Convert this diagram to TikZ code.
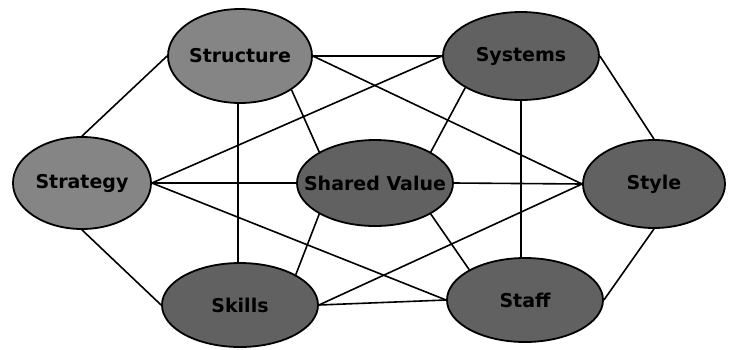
\documentclass[tikz,border=0pt]{standalone}
\usepackage{fontspec}
\setmainfont{DejaVu Sans}
\usetikzlibrary{shapes.geometric,backgrounds}
\begin{document}
\begin{tikzpicture}[x=1pt,y=-1pt,
  sbox/.style={ellipse,draw=black,line width=1.8pt,inner xsep=-20pt,inner ysep=0pt,
    font=\fontsize{19}{19}\selectfont\bfseries,text=black},
  light/.style={sbox,fill=black!48},
  dark/.style={sbox,fill=black!62},
  link/.style={draw=black,line width=1.6pt}]
\useasboundingbox (0,0) rectangle (729,349);
\node[light,minimum width=138pt,minimum height=92pt] (strategy) at (82,183) {Strategy};
\node[light,minimum width=144pt,minimum height=94pt] (structure) at (240,56) {Structure};
\node[dark,minimum width=156pt,minimum height=88pt] (systems) at (521,56) {Systems};
\node[dark,minimum width=156pt,minimum height=86pt] (shared) at (375,183) {Shared Value};
\node[dark,minimum width=142pt,minimum height=88pt] (style) at (654,184) {Style};
\node[dark,minimum width=156pt,minimum height=84pt] (skills) at (240,305) {Skills};
\node[dark,minimum width=156pt,minimum height=84pt] (staff) at (525,300) {Staff};
\begin{scope}[on background layer]
  \draw[link] (structure.west) -- (strategy.north);
  \draw[link] (structure.east) -- (systems.west);
  \draw[link] (structure.east) -- (style.west);
  \draw[link] (structure.south east) -- (shared.north west);
  \draw[link] ([xshift=-2pt]structure.south) -- ([xshift=-2pt]structure.south |- skills.north);
  \draw[link] (systems.west) -- (strategy.east);
  \draw[link] (systems.south west) -- (shared.north east);
  \draw[link] (systems.south) -- (systems.south |- staff.north);
  \draw[link] (systems.east) -- (style.north);
  \draw[link] (strategy.east) -- (shared.west);
  \draw[link] (strategy.east) -- (staff.west);
  \draw[link] (strategy.south) -- (skills.west);
  \draw[link] (skills.north east) -- (shared.south west);
  \draw[link] (skills.east) -- (style.west);
  \draw[link] (skills.east) -- (staff.west);
  \draw[link] (staff.north west) -- (shared.south east);
  \draw[link] (staff.east) -- (style.south);
  \draw[link] (shared.east) -- (style.west);
\end{scope}
\end{tikzpicture}
\end{document}
